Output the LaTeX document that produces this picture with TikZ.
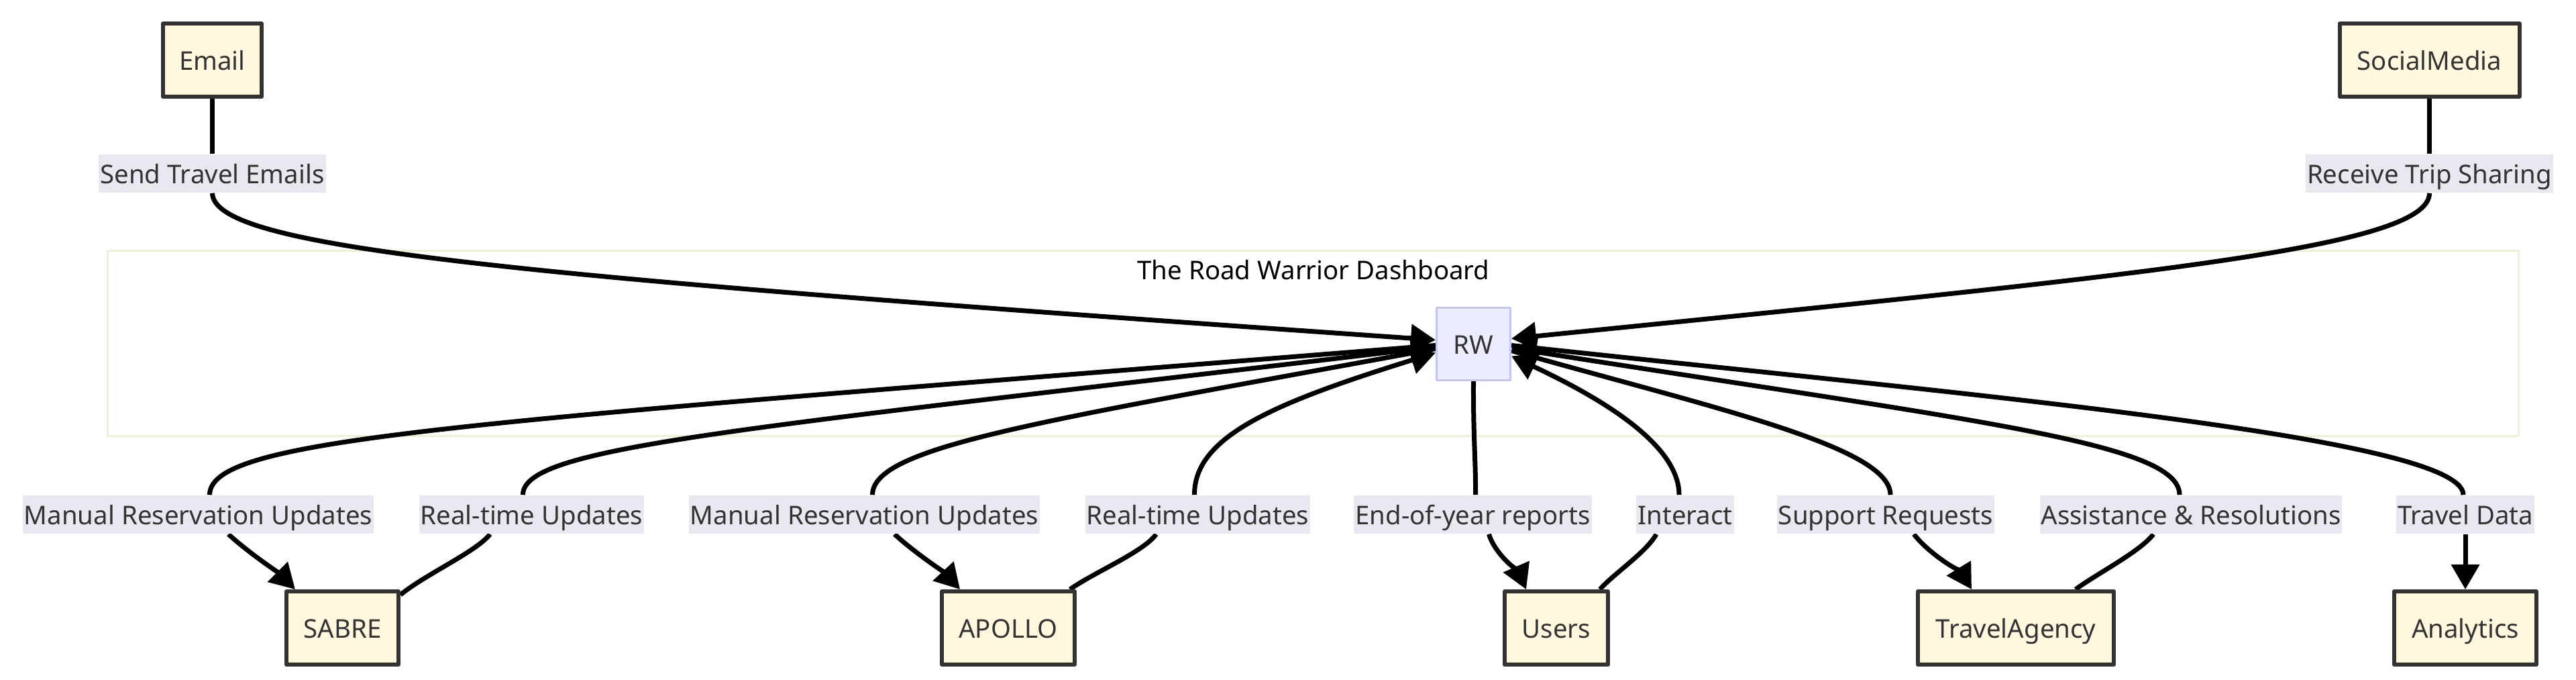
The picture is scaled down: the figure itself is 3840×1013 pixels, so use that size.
\documentclass[tikz,border=0pt]{standalone}
\usepackage{fontspec}
\setmainfont{Noto Sans}
\usepackage{tikz}
\usetikzlibrary{arrows.meta,calc,backgrounds}
\definecolor{boxfill}{HTML}{FFF8DF}
\definecolor{boxline}{HTML}{333333}
\definecolor{lblfill}{HTML}{E8E8F0}
\definecolor{rwfill}{HTML}{ECECFF}
\definecolor{rwline}{HTML}{C4C4F6}
\definecolor{grpline}{HTML}{F0F0D8}

\begin{document}
\begin{tikzpicture}[x=0.25pt,y=-0.25pt,line cap=round,line join=round,
	>={Triangle[length=9.25pt,width=10.25pt]},
	every node/.style={font=\fontsize{9.6pt}{12pt}\selectfont,text=boxline,text height=7.4pt,text depth=0pt},
	ext/.style={draw=boxline,fill=boxfill,line width=1.5pt,minimum height=27.25pt,inner sep=0pt},
	lbl/.style={fill=lblfill,minimum height=14.25pt,inner xsep=0.5pt,inner ysep=0pt},
	flow/.style={line width=1.75pt,draw=black}]
		\useasboundingbox (0,0) rectangle (3840,1013);
		\node[ext,minimum width=36.75pt] (email) at (316.5,89.5) {Email};
		\node[ext,minimum width=67pt] (social) at (3621.5,89.5) {SocialMedia};
		\node[lbl] (sendlbl) at (316.5,258.5) {Send Travel Emails};
		\node[lbl] (recvlbl) at (3621.5,258.5) {Receive Trip Sharing};
		\node[draw=rwline,fill=rwfill,line width=0.75pt,minimum width=27.5pt,minimum height=27pt,inner sep=0pt] (rw) at (2196.5,512.5) {RW};
		\node[anchor=base,text=black] (title) at (1958,417) {The Road Warrior Dashboard};
		\node[lbl] (mru1) at (295.5,766.5) {Manual Reservation Updates};
		\node[lbl] (rtu1) at (792.5,766.5) {Real-time Updates};
		\node[lbl] (mru2) at (1288.5,766.5) {Manual Reservation Updates};
		\node[lbl] (rtu2) at (1785.5,766.5) {Real-time Updates};
		\node[lbl] (eoy) at (2195.5,766.5) {End-of-year reports};
		\node[lbl] (interact) at (2512,766.5) {Interact};
		\node[lbl] (support) at (2811,766.5) {Support Requests};
		\node[lbl] (assist) at (3266,766.5) {Assistance \& Resolutions};
		\node[lbl] (tdata) at (3675,766.5) {Travel Data};
		\node[ext,minimum width=41.75pt] (sabre) at (510.5,935.5) {SABRE};
		\node[ext,minimum width=49.5pt] (apollo) at (1503,935.5) {APOLLO};
		\node[ext,minimum width=38.5pt] (users) at (2320,935.5) {Users};
		\node[ext,minimum width=73pt] (agency) at (3005,935.5) {TravelAgency};
		\node[ext,minimum width=53pt] (analytics) at (3675,935.5) {Analytics};
		\begin{scope}[on background layer]
		\node[draw=grpline,line width=0.75pt,minimum width=898.5pt,minimum height=69pt,inner sep=0pt] (dash) at (1957.5,511.5) {};
		\draw[flow] (email) -- (sendlbl);
		\draw[flow,->] (sendlbl.south) .. controls (319,370) and (750,410) .. ($(rw.west)+(0,-6)$);
		\draw[flow] (social) -- (recvlbl);
		\draw[flow,->] (recvlbl.south) .. controls (3621,370) and (3189,410) .. ($(rw.east)+(0,-8)$);
		\draw[flow] ($(rw.west)+(0,2)$) .. controls (700,630) and (313,650) .. ($(mru1.north)+(17,0)$);
		\draw[flow,->] ($(mru1.south)+(45,0)$) .. controls (370,823) and (415,853) .. ($(sabre.north west)+(16,0)$);
		\draw[flow] ($(sabre.north east)+(0,8)$) .. controls (635,855) and (710,822) .. ($(rtu1.south)+(-62,0)$);
		\draw[flow,->] ($(rtu1.north)+(-13,0)$) .. controls (779,665) and (1100,640) .. ($(rw.west)+(0,4)$);
		\draw[flow] ($(rw.west)+(0,7)$) .. controls (1550,628) and (1301,665) .. ($(mru2.north)+(12,0)$);
		\draw[flow,->] ($(mru2.south)+(45,0)$) .. controls (1363,823) and (1408,853) .. ($(apollo.north west)+(30,0)$);
		\draw[flow] ($(apollo.north east)+(-10,0)$) .. controls (1630,853) and (1705,822) .. ($(rtu2.south)+(-62,0)$);
		\draw[flow,->] ($(rtu2.north)+(-5,0)$) .. controls (1780,650) and (1900,600) .. ($(rw.west)+(0,13)$);
		\draw[flow] (rw.south) .. controls (2196,650) and (2200,690) .. ($(eoy.north)+(4,0)$);
		\draw[flow,->] ($(eoy.south)+(24,0)$) .. controls (2228,825) and (2265,855) .. ($(users.north west)+(35,0)$);
		\draw[flow] ($(users.north east)+(-15,0)$) .. controls (2405,855) and (2455,822) .. ($(interact.south)+(-43,0)$);
		\draw[flow,->] ($(interact.north)+(-9,0)$) .. controls (2503,660) and (2380,590) .. ($(rw.east)+(0,18)$);
		\draw[flow] ($(rw.east)+(0,10)$) .. controls (2550,607) and (2818,665) .. ($(support.north)+(7,0)$);
		\draw[flow,->] ($(support.south)+(42,0)$) .. controls (2875,825) and (2925,855) .. ($(agency.north west)+(83,0)$);
		\draw[flow] ($(agency.north east)+(-60,0)$) .. controls (3125,855) and (3190,822) .. ($(assist.south)+(-56,0)$);
		\draw[flow,->] ($(assist.north)+(-17,0)$) .. controls (3249,660) and (2950,628) .. ($(rw.east)+(0,6)$);
		\draw[flow] ($(rw.east)+(0,2)$) .. controls (2900,585) and (3672,650) .. ($(tdata.north)+(-3,0)$);
		\draw[flow,->] (tdata) -- (analytics);
		\end{scope}
\end{tikzpicture}
\end{document}
